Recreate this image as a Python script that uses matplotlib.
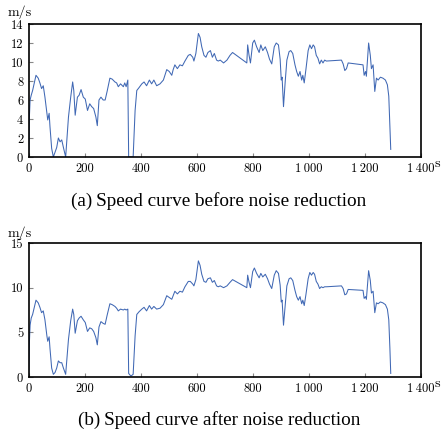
import matplotlib
matplotlib.use("Agg")
import matplotlib.pyplot as plt

t = [0, 2, 5, 9, 14, 20, 26, 34, 40, 46, 52, 58, 65, 68, 73, 76, 82, 88, 94, 100,
     106, 112, 118, 124, 132, 142, 150, 157, 161, 166, 174, 180, 187, 195, 202, 210,
     218, 225, 232, 240, 245, 251, 258, 266, 273, 280, 290, 298, 308, 314, 320, 328,
     338, 343, 348, 354, 357, 365, 373, 380, 386, 394, 404, 412, 421, 431, 439, 447,
     457, 469, 481, 493, 502, 511, 516, 522, 531, 540, 549, 558, 570, 577, 586, 590,
     597, 606, 612, 618, 626, 633, 640, 649, 656, 663, 671, 677, 684, 696, 708, 719,
     728, 779, 782, 787, 792, 800, 806, 814, 823, 829, 836, 845, 853, 860, 868, 877,
     884, 892, 898, 902, 905, 910, 916, 922, 930, 936, 943, 951, 957, 963, 969, 975,
     979, 984, 990, 998, 1004, 1010, 1016, 1021, 1027, 1033, 1039, 1045, 1051, 1057,
     1063, 1117, 1123, 1129, 1135, 1141, 1194, 1198, 1203, 1206, 1214, 1220, 1224,
     1230, 1233, 1236, 1242, 1248, 1256, 1265, 1274, 1281, 1286, 1290, 1293]

speed_before = [0.0, 3.9, 6.0, 6.5, 7.0, 7.8, 8.6, 8.3, 7.8, 7.2, 7.5, 6.3, 4.6, 3.9, 4.6, 3.2, 0.9, 0.0, 0.5, 1.0,
                2.0, 1.6, 1.8, 1.0, 0.0, 4.2, 6.3, 7.9, 7.0, 4.4, 6.3, 6.5, 7.1, 6.3, 6.1, 4.9,
                5.6, 5.3, 5.1, 4.2, 3.3, 6.0, 6.3, 6.0, 6.0, 6.9, 8.3, 8.2, 7.9, 7.8, 7.4, 7.7,
                7.4, 7.8, 7.4, 8.1, 0.0, 0.0, 0.0, 4.9, 7.0, 7.3, 7.7, 7.9, 7.5, 8.1, 7.7, 8.1,
                7.5, 7.7, 8.1, 9.2, 9.0, 8.6, 9.2, 9.7, 9.3, 9.7, 9.6, 10.1, 10.7, 10.8, 10.5, 10.1,
                10.9, 13.0, 12.6, 11.6, 10.7, 10.5, 11.0, 11.2, 10.5, 10.9, 10.2, 10.1, 10.2, 9.9, 10.2, 10.7,
                11.0, 9.9, 11.8, 10.7, 9.9, 12.0, 12.3, 11.6, 11.0, 11.8, 11.2, 11.6, 11.0, 10.3, 9.8, 11.6,
                12.0, 11.8, 10.3, 8.1, 8.4, 5.3, 7.9, 10.2, 11.1, 11.2, 10.9, 9.7, 9.0, 8.5, 9.0, 8.1,
                8.6, 7.8, 9.2, 11.2, 11.8, 11.4, 11.8, 11.6, 10.7, 10.4, 9.8, 10.2, 9.9, 10.2,
                10.1, 10.2, 9.8, 9.1, 9.3, 9.9, 9.7, 8.6, 9.0, 8.5, 12.0, 10.7, 9.3,
                9.7, 8.3, 6.9, 8.3, 8.1, 8.4, 8.3, 8.1, 7.6, 6.4, 3.2, 0.8]

speed_after = [0.3, 3.5, 5.8, 6.6, 7.0, 7.8, 8.6, 8.3, 7.8, 7.2, 7.4, 6.4, 4.6, 4.0, 4.5, 3.2, 1.0, 0.3, 0.5, 1.0,
               1.8, 1.6, 1.6, 1.0, 0.3, 4.2, 6.3, 7.6, 7.0, 4.9, 6.3, 6.6, 6.8, 6.4, 6.1, 5.1,
               5.5, 5.4, 5.1, 4.4, 3.6, 5.6, 6.2, 6.0, 5.9, 6.9, 8.2, 8.1, 7.9, 7.7, 7.4, 7.6,
               7.5, 7.6, 7.5, 7.6, 0.4, 0.1, 0.3, 4.6, 7.0, 7.3, 7.6, 7.8, 7.4, 8.0, 7.6, 7.9,
               7.6, 7.7, 8.1, 9.1, 8.9, 8.7, 9.1, 9.6, 9.3, 9.6, 9.5, 10.1, 10.7, 10.7, 10.4, 10.2,
               10.9, 13.0, 12.5, 11.5, 10.7, 10.6, 11.0, 11.1, 10.6, 10.8, 10.2, 10.1, 10.2, 10.0, 10.2, 10.6,
               10.9, 10.0, 11.4, 10.6, 10.0, 11.8, 12.2, 11.6, 11.1, 11.6, 11.2, 11.5, 11.0, 10.4, 9.9, 11.4,
               11.9, 11.6, 10.3, 8.4, 8.6, 5.8, 8.0, 10.2, 11.0, 11.1, 10.8, 9.7, 9.0, 8.6, 9.0, 8.2,
               8.6, 8.0, 9.2, 11.0, 11.7, 11.4, 11.7, 11.5, 10.7, 10.4, 9.9, 10.1, 10.0, 10.1,
               10.1, 10.2, 9.9, 9.2, 9.3, 9.8, 9.7, 8.8, 9.0, 8.7, 11.9, 10.8, 9.4,
               9.6, 8.4, 7.2, 8.3, 8.2, 8.4, 8.3, 8.1, 7.6, 6.4, 3.2, 0.4]

xticks = [0, 200, 400, 600, 800, 1000, 1200, 1400]
xtick_labels = ["0", "200", "400", "600", "800", "1\u2009000", "1\u2009200", "1\u2009400"]
yticks_a = [0, 2, 4, 6, 8, 10, 12, 14]
yticks_b = [0, 5, 10, 15]
caption_a = "(a)\u2009Speed curve before noise reduction"
caption_b = "(b)\u2009Speed curve after noise reduction"

plt.rcParams["font.family"] = ["cmr10", "DejaVu Serif"]
plt.rcParams["axes.formatter.use_mathtext"] = True

W, H = 441, 434
fig = plt.figure(figsize=(W / 100, H / 100), dpi=100)

line_color = "#4068b4"

def make_axes(top_px, bot_px, y, yticks, ymax):
    ax = fig.add_axes([28.7 / W, 1 - bot_px / H, 392 / W, (bot_px - top_px) / H])
    ax.plot(t, y, color=line_color, lw=0.75)
    ax.set_xlim(0, 1400)
    ax.set_ylim(0, ymax)
    ax.set_xticks(xticks)
    ax.set_xticklabels(xtick_labels)
    ax.set_yticks(yticks)
    ax.set_yticklabels([str(v) for v in yticks])
    ax.tick_params(direction="in", length=3, width=0.8, color="#888888",
                   labelsize=9, pad=4)
    for s in ax.spines.values():
        s.set_linewidth(1.2)
        s.set_color("black")
    return ax

ax1 = make_axes(24, 157, speed_before, yticks_a, 14)
ax2 = make_axes(243, 377, speed_after, yticks_b, 15)

fig.text(20 / W, 1 - 12 / H, "m/s", ha="center", va="center", fontsize=10)
fig.text(437 / W, 1 - 164 / H, "s", ha="center", va="center", fontsize=10)
fig.text(20 / W, 1 - 233 / H, "m/s", ha="center", va="center", fontsize=10)
fig.text(437 / W, 1 - 384 / H, "s", ha="center", va="center", fontsize=10)
cap_font = ["Liberation Serif", "DejaVu Serif"]
fig.text(219 / W, 1 - 201 / H, caption_a, ha="center", va="center", fontsize=13.8,
         family=cap_font)
fig.text(219 / W, 1 - 420 / H, caption_b, ha="center", va="center", fontsize=13.8,
         family=cap_font)

fig.savefig("out.png", dpi=100)
